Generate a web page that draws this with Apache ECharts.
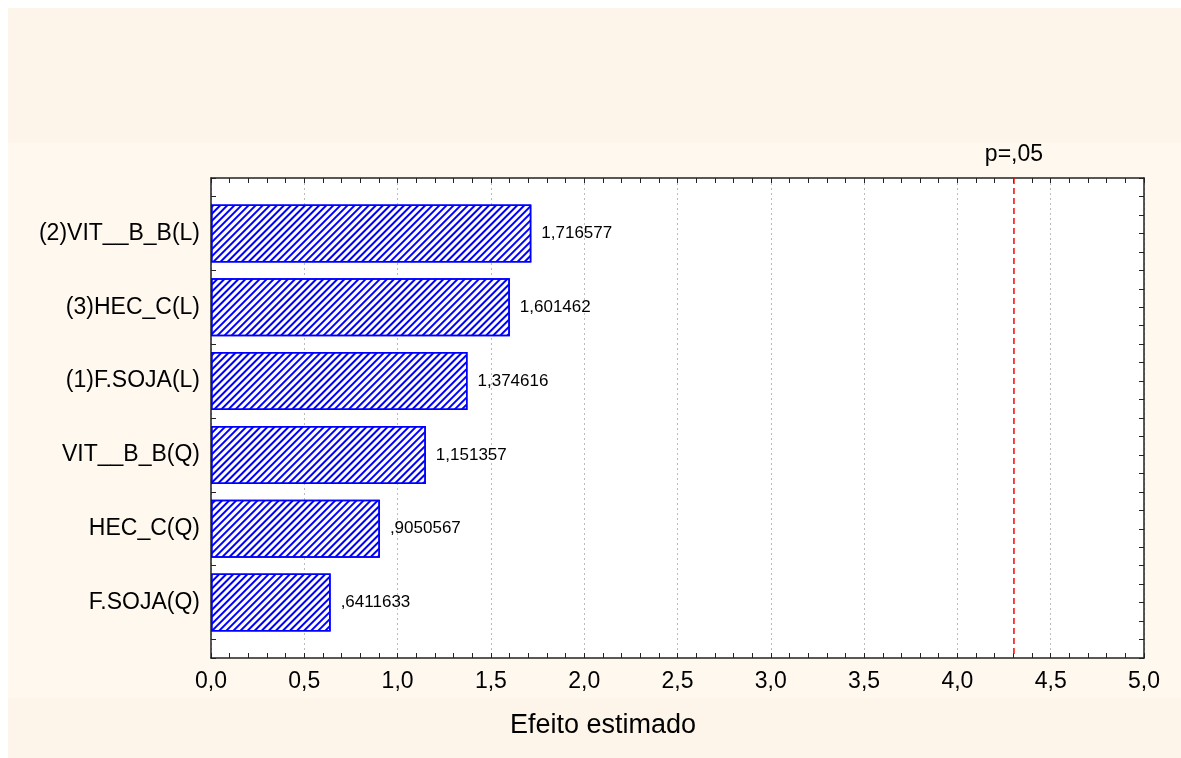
<!DOCTYPE html>
<html>
<head>
<meta charset="utf-8">
<script src="https://cdn.jsdelivr.net/npm/echarts@6/dist/echarts.min.js"></script>
<style>
  html, body { margin: 0; padding: 0; background: #fff; }
  #main { width: 1181px; height: 758px; }
</style>
</head>
<body>
<div id="main"></div>
<script>
// efeitos estimados (pareto), de cima para baixo
var categories = ['(2)VIT__B_B(L)', '(3)HEC_C(L)', '(1)F.SOJA(L)', 'VIT__B_B(Q)', 'HEC_C(Q)', 'F.SOJA(Q)'];
var effects = [1.716577, 1.601462, 1.374616, 1.151357, 0.9050567, 0.6411633];
var effectLabels = ['1,716577', '1,601462', '1,374616', '1,151357', ',9050567', ',6411633'];
var pCritical = 4.303;
var pLabel = 'p=,05';
var xTitle = 'Efeito estimado';

var FONT = 'Liberation Sans, Arial, sans-serif';
var chart = echarts.init(document.getElementById('main'), null, { renderer: 'canvas' });

function commaFmt(v) {
  return v.toFixed(1).replace('.', ',');
}

var frameTick = { show: true, inside: true, length: 5, lineStyle: { color: '#222', width: 1 } };
var frameLine = { show: true, onZero: false, lineStyle: { color: '#222', width: 1.5 } };

var option = {
  backgroundColor: '#fdf5e9',
  animation: false,
  textStyle: { fontFamily: FONT },
  graphic: [
    { type: 'rect', z: -10, shape: { x: 8, y: 143, width: 1173, height: 555 }, style: { fill: '#fef8ef' } },
    { type: 'rect', z: -10, shape: { x: 0, y: 0, width: 1181, height: 8 }, style: { fill: '#ffffff' } },
    { type: 'rect', z: -10, shape: { x: 0, y: 0, width: 8, height: 758 }, style: { fill: '#ffffff' } }
  ],
  title: {
    text: xTitle,
    left: 598,
    top: 707,
    textAlign: 'center',
    textStyle: { fontFamily: FONT, fontSize: 27, fontWeight: 'normal', color: '#000' }
  },
  grid: [
    // moldura
    { left: 211, top: 178, width: 933, height: 480, show: true, backgroundColor: '#fff', borderWidth: 0 },
    // barras
    { left: 211, top: 196.5, width: 933, height: 443 }
  ],
  xAxis: [
    {
      gridIndex: 0, type: 'value', min: 0, max: 5, interval: 0.5, position: 'bottom',
      axisLine: frameLine, axisTick: frameTick,
      minorTick: { show: true, splitNumber: 5, length: 5, lineStyle: { color: '#222' } },
      axisLabel: { formatter: commaFmt, fontSize: 23, color: '#000', margin: 12, fontFamily: FONT },
      splitLine: { show: true, lineStyle: { color: '#bbbbbb', type: [2, 3], width: 1 } }
    },
    {
      gridIndex: 0, type: 'value', min: 0, max: 5, interval: 0.5, position: 'top',
      axisLine: frameLine, axisTick: frameTick,
      minorTick: { show: true, splitNumber: 5, length: 5, lineStyle: { color: '#222' } },
      axisLabel: { show: false }, splitLine: { show: false }
    },
    { gridIndex: 1, type: 'value', min: 0, max: 5, show: false }
  ],
  yAxis: [
    {
      gridIndex: 0, type: 'value', min: 0, max: 26, interval: 1, inverse: true, position: 'left',
      axisLine: frameLine, axisTick: frameTick,
      axisLabel: { show: false }, splitLine: { show: false }
    },
    {
      gridIndex: 0, type: 'value', min: 0, max: 26, interval: 1, inverse: true, position: 'right',
      axisLine: frameLine, axisTick: frameTick,
      axisLabel: { show: false }, splitLine: { show: false }
    },
    {
      gridIndex: 1, type: 'category', data: categories, inverse: true,
      axisLine: { show: false }, axisTick: { show: false },
      axisLabel: { fontSize: 23, color: '#000', margin: 11, fontFamily: FONT }
    }
  ],
  series: [
    {
      type: 'bar',
      xAxisIndex: 2,
      yAxisIndex: 2,
      data: effects,
      barWidth: 58,
      itemStyle: {
        color: '#ffffff',
        borderColor: '#0000ff',
        borderWidth: 1.5,
        decal: {
          symbol: 'rect',
          symbolSize: 1,
          color: '#0000ff',
          backgroundColor: null,
          dashArrayX: [1, 0],
          dashArrayY: [1.6, 2.9],
          rotation: -Math.PI / 4
        }
      },
      label: {
        show: true,
        position: 'right',
        distance: 10,
        fontSize: 17,
        color: '#000',
        fontFamily: FONT,
        formatter: function (p) { return effectLabels[p.dataIndex]; }
      },
      z: 3
    },
    {
      type: 'line',
      xAxisIndex: 0,
      yAxisIndex: 0,
      data: [[pCritical, 0], [pCritical, 26]],
      symbol: 'none',
      lineStyle: { color: '#ff0000', width: 1.5, type: [6, 4] },
      z: 4
    },
    {
      type: 'scatter',
      xAxisIndex: 0,
      yAxisIndex: 0,
      data: [[pCritical, 0]],
      symbolSize: 0,
      clip: false,
      itemStyle: { opacity: 1 },
      label: {
        show: true,
        position: 'top',
        distance: 12,
        fontSize: 23,
        color: '#000',
        opacity: 1,
        fontFamily: FONT,
        formatter: function () { return pLabel; }
      }
    }
  ]
};

chart.setOption(option);
</script>
</body>
</html>
